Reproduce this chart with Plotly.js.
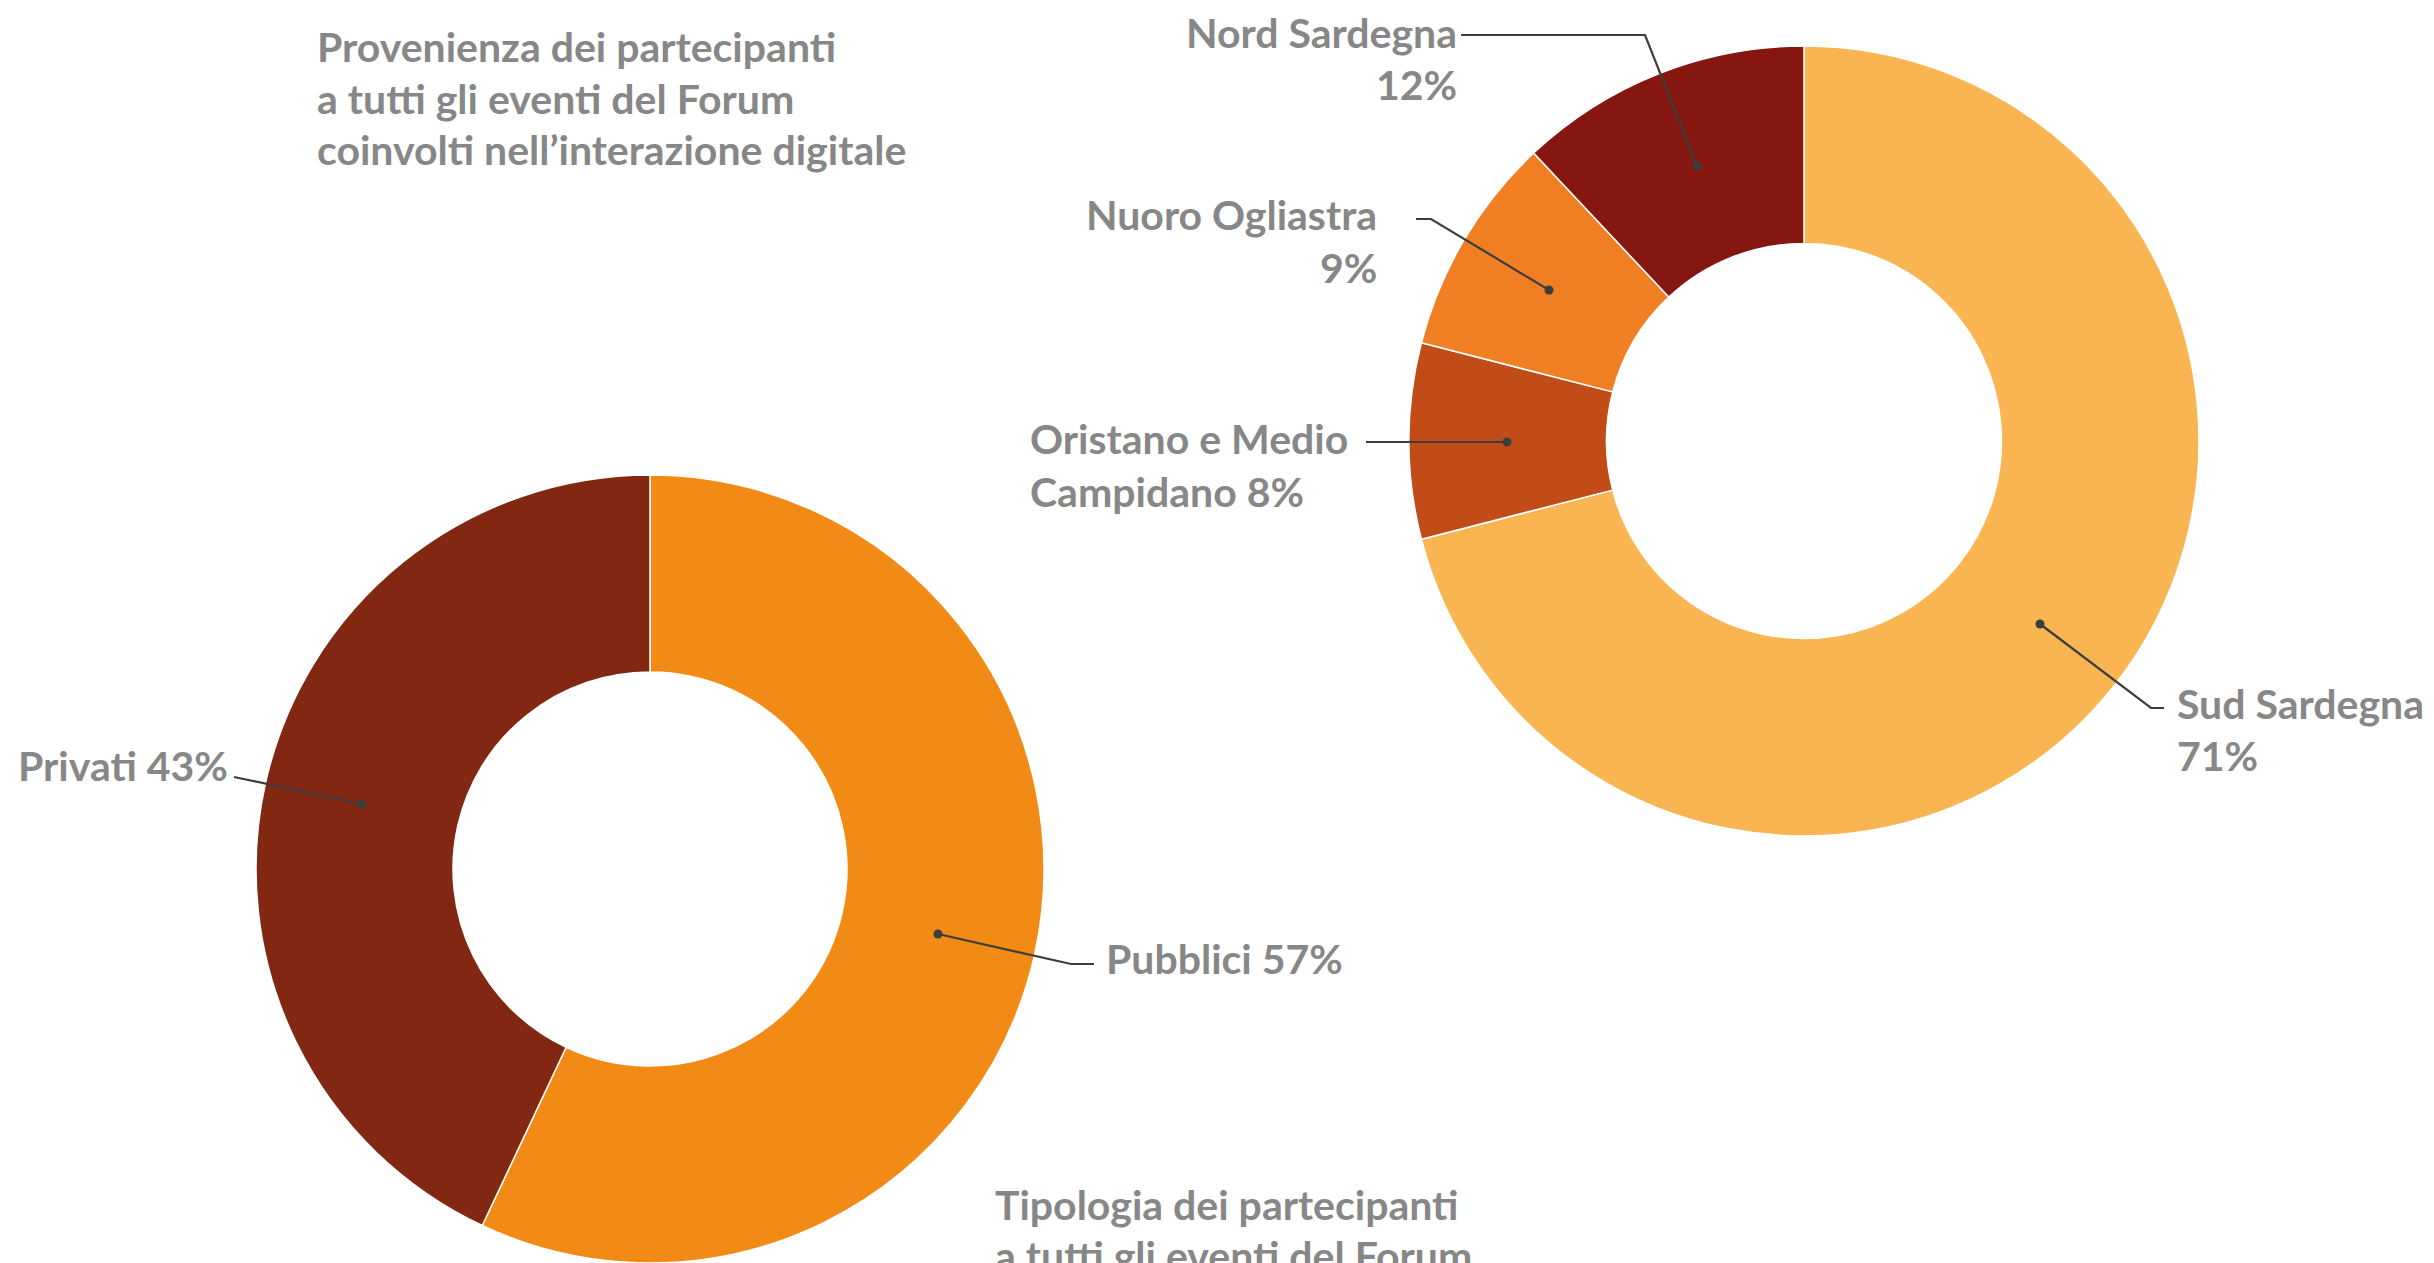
<!DOCTYPE html>
<html>
<head>
<meta charset="utf-8">
<script src="https://cdn.plot.ly/plotly-3.0.1.min.js"></script>
<style>html,body{margin:0;padding:0;background:#fff;}#chart{width:2434px;height:1263px;}</style>
</head>
<body>
<div id="chart"></div>
<script>
// ---- data ----
const typeLabels = ["Pubblici", "Privati"];
const typeValues = [57, 43];
const typeColors = ["#F18B15", "#822812"];

const areaLabels = ["Sud Sardegna", "Oristano e Medio Campidano", "Nuoro Ogliastra", "Nord Sardegna"];
const areaValues = [71, 8, 9, 12];
const areaColors = ["#F8B552", "#C14C17", "#EF7F22", "#851710"];

const title1Lines = ["Provenienza dei partecipanti", "a tutti gli eventi del Forum", "coinvolti nell\u2019interazione digitale"];
const title2Lines = ["Tipologia dei partecipanti", "a tutti gli eventi del Forum"];

// ---- layout helpers ----
const W = 2434, H = 1263;
const px = x => x / W;
const py = y => 1 - y / H;
const FONT = {family: "Lato, 'Open Sans', sans-serif", size: 41, color: "#878787", weight: 700};
const LINE = "#3d3d3d";

function txt(text, x, y, anchor) {
  return {text: text, x: px(x), y: py(y), xref: "paper", yref: "paper",
          xanchor: anchor, yanchor: "middle", showarrow: false, font: FONT, align: anchor};
}
function leader(points) {
  const d = points.map((p, i) => (i ? "L" : "M") + px(p[0]) + "," + py(p[1])).join(" ");
  return {type: "path", xref: "paper", yref: "paper", path: d, line: {color: LINE, width: 2.2}};
}
function dot(p) {
  const r = 4.5;
  return {type: "circle", xref: "paper", yref: "paper", x0: px(p[0] - r), x1: px(p[0] + r),
          y0: py(p[1] + r), y1: py(p[1] - r), fillcolor: LINE, line: {width: 0}};
}

const pct = v => v + "%";

const traces = [
  {type: "pie", labels: typeLabels, values: typeValues, sort: false, direction: "clockwise", rotation: 0,
   hole: 0.5, marker: {colors: typeColors, line: {color: "#ffffff", width: 1.5}}, textinfo: "none",
   hoverinfo: "label+percent", domain: {x: [px(256), px(1044)], y: [py(1263), py(475)]}},
  {type: "pie", labels: areaLabels, values: areaValues, sort: false, direction: "clockwise", rotation: 0,
   hole: 0.5, marker: {colors: areaColors, line: {color: "#ffffff", width: 1.5}}, textinfo: "none",
   hoverinfo: "label+percent", domain: {x: [px(1409), px(2199)], y: [py(836), py(46)]}}
];

const annotations = [
  txt(title1Lines[0], 315, 46, "left"),
  txt(title1Lines[1], 315, 98, "left"),
  txt(title1Lines[2], 315, 150, "left"),
  txt(title2Lines[0], 993, 1204, "left"),
  txt(title2Lines[1], 993, 1255, "left"),
  txt(areaLabels[3], 1459, 32, "right"),
  txt(pct(areaValues[3]), 1459, 84, "right"),
  txt(areaLabels[2], 1379, 215, "right"),
  txt(pct(areaValues[2]), 1379, 267, "right"),
  txt("Oristano e Medio", 1028, 439, "left"),
  txt("Campidano " + pct(areaValues[1]), 1028, 491, "left"),
  txt(areaLabels[0], 2175, 703, "left"),
  txt(pct(areaValues[0]), 2175, 755, "left"),
  txt(typeLabels[1] + " " + pct(typeValues[1]), 16, 766, "left"),
  txt(typeLabels[0] + " " + pct(typeValues[0]), 1104, 958, "left")
];

const shapes = [
  leader([[1461, 35], [1645, 35], [1697, 166]]), dot([1697, 166]),
  leader([[1416, 219], [1431, 219], [1549, 290]]), dot([1549, 290]),
  leader([[1366, 442], [1507, 442]]), dot([1507, 442]),
  leader([[2164, 708], [2151, 708], [2040, 624]]), dot([2040, 624]),
  leader([[234, 777], [362, 804]]), dot([362, 804]),
  leader([[938, 934], [1071, 964], [1094, 964]]), dot([938, 934])
];

Plotly.newPlot("chart", traces, {
  width: W, height: H, margin: {l: 0, r: 0, t: 0, b: 0},
  paper_bgcolor: "#ffffff", plot_bgcolor: "#ffffff", showlegend: false,
  annotations: annotations, shapes: shapes
}, {displayModeBar: false, staticPlot: true});
</script>
</body>
</html>
